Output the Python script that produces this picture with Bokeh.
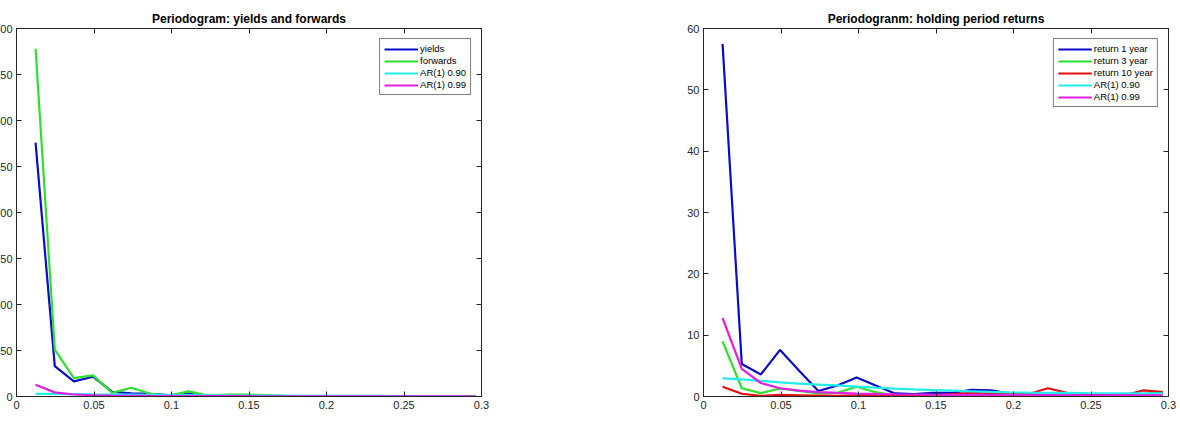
from bokeh.plotting import figure
from bokeh.models import Range1d, FixedTicker, LinearAxis, Legend, LegendItem
from bokeh.layouts import row
from bokeh.embed import file_html
from bokeh.resources import INLINE

# ---------------- data ----------------
freq = [0.0123, 0.0247, 0.0370, 0.0494, 0.0617, 0.0741, 0.0864, 0.0988,
        0.1111, 0.1235, 0.1358, 0.1481, 0.1605, 0.1728, 0.1852, 0.1975,
        0.2099, 0.2222, 0.2346, 0.2469, 0.2593, 0.2716, 0.2840, 0.2963]

yields = [276, 33, 16.5, 21.5, 5, 3.5, 3, 1.5, 3, 1, 0.8, 0.6,
          0.5, 0.4, 0.4, 0.3, 0.3, 0.3, 0.2, 0.2, 0.2, 0.2, 0.2, 0.2]
forwards = [378, 51, 20, 23, 4, 9.5, 3, 1, 5.5, 1, 2, 2,
            1.5, 0.8, 0.5, 0.5, 0.4, 0.4, 0.3, 0.3, 0.3, 0.3, 0.3, 0.3]

ar90 = [2.95, 2.8, 2.55, 2.3, 2.1, 1.95, 1.8, 1.6, 1.45, 1.3, 1.15, 1.05,
        0.95, 0.85, 0.75, 0.67, 0.62, 0.6, 0.58, 0.55, 0.53, 0.52, 0.5, 0.5]
ar99 = [12.8, 4.5, 2.2, 1.35, 0.95, 0.72, 0.58, 0.48, 0.42, 0.37, 0.33, 0.3,
        0.28, 0.26, 0.24, 0.23, 0.22, 0.21, 0.2, 0.2, 0.19, 0.19, 0.18, 0.18]

ret1 = [57.5, 5.3, 3.6, 7.6, 4.2, 0.9, 1.8, 3.1, 1.8, 0.5, 0.4, 0.6,
        0.6, 1.1, 1.0, 0.5, 0.4, 0.3, 0.2, 0.2, 0.2, 0.2, 0.4, 0.6]
ret3 = [9.0, 1.35, 0.55, 1.3, 0.9, 0.5, 0.6, 1.6, 0.7, 0.15, 0.1, 0.1,
        0.1, 0.2, 0.3, 0.2, 0.2, 0.2, 0.3, 0.2, 0.2, 0.2, 0.3, 0.8]
ret10 = [1.6, 0.45, 0.1, 0.25, 0.2, 0.15, 0.1, 0.2, 0.25, 0.1, 0.1, 0.2,
         0.4, 0.6, 0.5, 0.4, 0.4, 1.35, 0.6, 0.3, 0.3, 0.2, 1.0, 0.7]

x_ticks = [0, 0.05, 0.1, 0.15, 0.2, 0.25, 0.3]
y_ticks_left = [0, 50, 100, 150, 200, 250, 300, 350, 400]
y_ticks_right = [0, 10, 20, 30, 40, 50, 60]

BLUE = "#0b0bc8"
GREEN = "#2ee02e"
CYAN = "#22eeee"
MAGENTA = "#e020e0"
RED = "#dd1111"
AXC = "#262626"
FONT = "Liberation Sans"


def style_axis(ax, ticks, labels=True):
    ax.ticker = FixedTicker(ticks=ticks)
    ax.axis_line_color = AXC
    ax.axis_line_width = 1
    ax.major_tick_in = 5
    ax.major_tick_out = 0
    ax.major_tick_line_color = AXC
    ax.minor_tick_line_color = None
    ax.major_label_text_font = FONT
    ax.major_label_text_font_size = "11px"
    ax.major_label_text_color = AXC
    ax.major_label_standoff = 4
    if not labels:
        ax.major_label_overrides = {t: "" for t in ticks}
        ax.major_label_standoff = 0


def make_fig(title, ymax, yticks, series, border_left):
    p = figure(frame_width=465, frame_height=368,
               x_range=Range1d(0, 0.3), y_range=Range1d(0, ymax),
               output_backend="svg", toolbar_location=None,
               min_border_left=border_left, min_border_right=12,
               min_border_top=28, min_border_bottom=30)
    p.title.text = title
    p.title.align = "center"
    p.title.text_font = FONT
    p.title.text_font_size = "12px"
    p.title.text_font_style = "bold"
    p.title.text_color = "#000000"
    p.title.standoff = 6
    p.xgrid.visible = False
    p.ygrid.visible = False
    p.outline_line_color = AXC
    p.outline_line_width = 1
    style_axis(p.xaxis[0], x_ticks)
    style_axis(p.yaxis[0], yticks)
    top = LinearAxis()
    style_axis(top, x_ticks, labels=False)
    p.add_layout(top, "above")
    right = LinearAxis()
    style_axis(right, yticks, labels=False)
    p.add_layout(right, "right")

    items = []
    for label, ys, color in series:
        r = p.line(freq, ys, line_color=color, line_width=2.2)
        items.append(LegendItem(label=label, renderers=[r]))
    leg = Legend(items=items, location="top_right")
    leg.label_text_font = FONT
    leg.label_text_font_size = "9.5px"
    leg.label_text_color = "#000000"
    leg.label_height = 10
    leg.label_standoff = 2
    leg.glyph_width = 34
    leg.glyph_height = 10
    leg.spacing = 1
    leg.padding = 4
    leg.margin = 10
    leg.border_line_color = "#000000"
    leg.border_line_width = 1
    leg.background_fill_alpha = 1
    p.add_layout(leg, "center")
    return p


p1 = make_fig("Periodogram: yields and forwards", 400, y_ticks_left,
              [("yields", yields, BLUE), ("forwards", forwards, GREEN),
               ("AR(1) 0.90", ar90, CYAN), ("AR(1) 0.99", ar99, MAGENTA)],
              border_left=40)
p1.margin = (0, 0, 0, -24)

p2 = make_fig("Periodogranm: holding period returns", 60, y_ticks_right,
              [("return 1 year", ret1, BLUE), ("return 3 year", ret3, GREEN),
               ("return 10 year", ret10, RED), ("AR(1) 0.90", ar90, CYAN),
               ("AR(1) 0.99", ar99, MAGENTA)],
              border_left=40)
p2.margin = (0, 0, 0, 170)

layout = row(p1, p2)
open("out.html", "w").write(file_html(layout, INLINE))
